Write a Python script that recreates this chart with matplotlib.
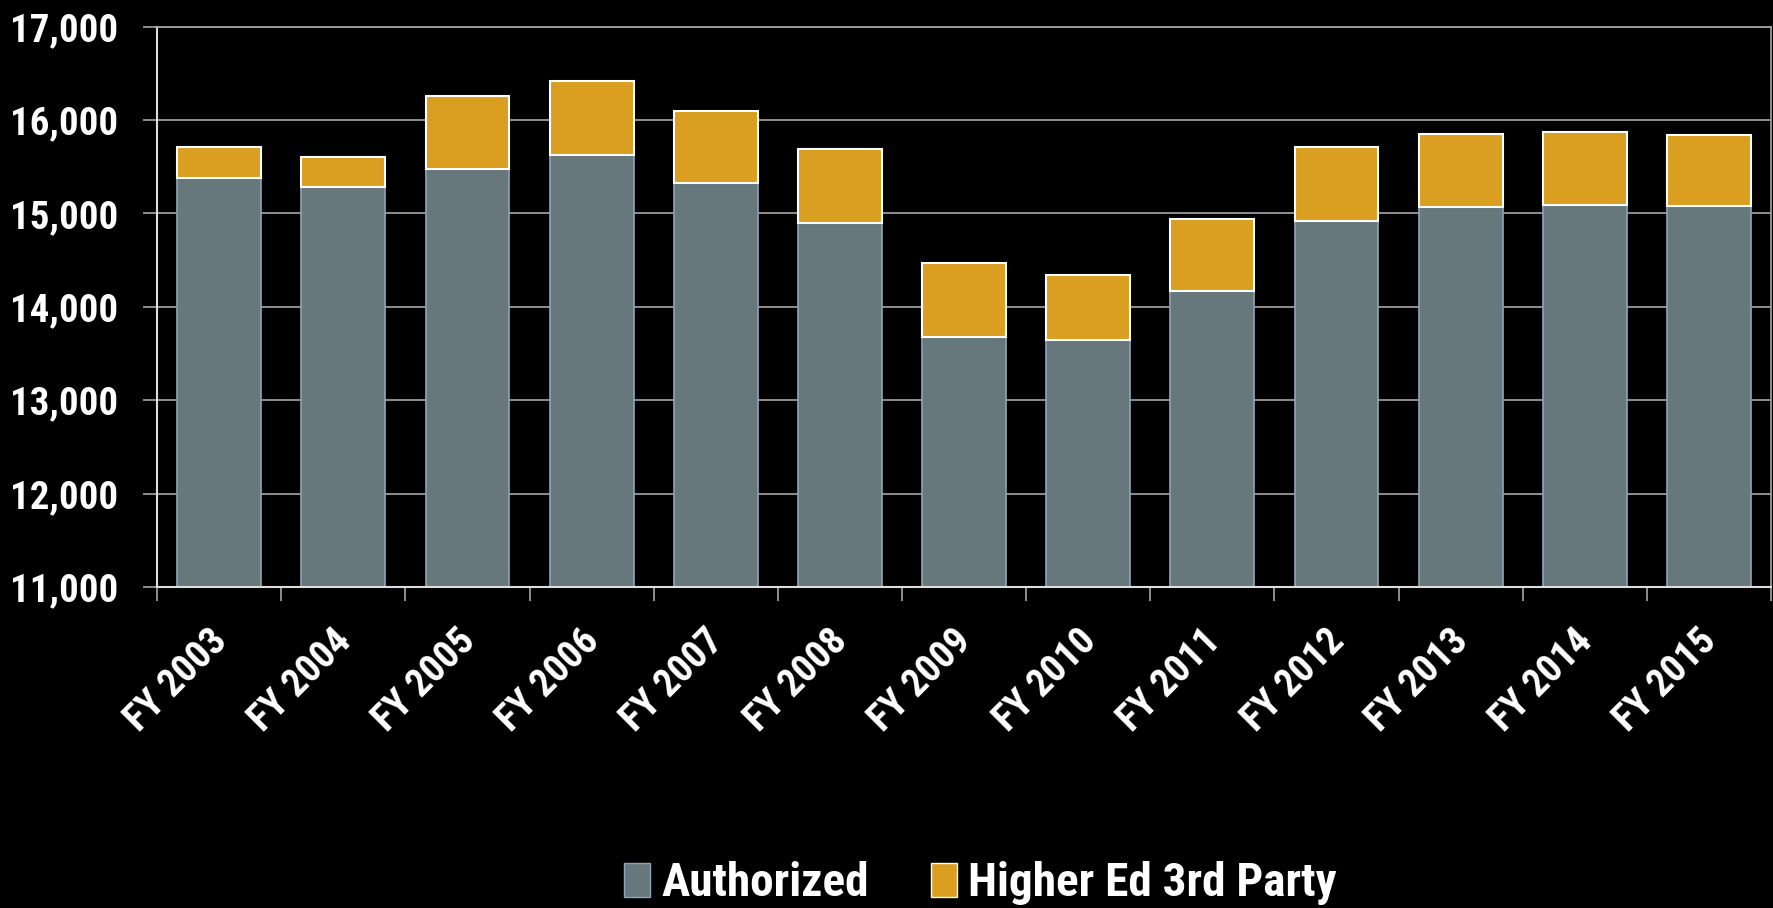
import matplotlib
matplotlib.use("Agg")
import matplotlib.pyplot as plt
import numpy as np
from matplotlib.patches import Patch
from matplotlib.ticker import FuncFormatter, FixedLocator
from matplotlib import font_manager as fm
from matplotlib.transforms import ScaledTranslation

fonts = fm.fontManager.ttflist
names = {f.name for f in fonts}
stretch = 'normal'
if 'Roboto Condensed' in names:
    fam = ['Roboto Condensed', 'DejaVu Sans']
elif 'Liberation Sans Narrow' in names:
    fam = ['Liberation Sans Narrow', 'DejaVu Sans']
elif any(f.name == 'DejaVu Sans' and 'ondensed' in f.fname for f in fonts):
    fam = ['DejaVu Sans']
    stretch = 'condensed'
else:
    fam = ['Roboto', 'DejaVu Sans']
narrow = fam[0] != 'Roboto'

plt.rcParams['font.family'] = fam
plt.rcParams['font.stretch'] = stretch
plt.rcParams['font.weight'] = 'bold'

categories = ["FY 2003", "FY 2004", "FY 2005", "FY 2006", "FY 2007", "FY 2008", "FY 2009",
              "FY 2010", "FY 2011", "FY 2012", "FY 2013", "FY 2014", "FY 2015"]
authorized = [15382, 15286, 15481, 15625, 15324, 14900, 13679, 13646, 14168, 14924, 15071, 15093, 15079]
totals = [15708, 15607, 16256, 16414, 16099, 15687, 14471, 14336, 14946, 15711, 15850, 15875, 15836]
higher_ed = [t - a for t, a in zip(totals, authorized)]
series_names = ["Authorized", "Higher Ed 3rd Party"]
yticks = [11000, 12000, 13000, 14000, 15000, 16000, 17000]

fig = plt.figure(figsize=(17.73, 9.08), dpi=100, facecolor='black')
ax = fig.add_axes([0.0886, 0.3535, 0.9103, 0.6171])
ax.set_facecolor('black')

x = np.arange(len(categories))
w = 0.676
grid_c = '#a6a6a6'
ax.set_axisbelow(True)
ax.yaxis.grid(True, color=grid_c, linewidth=1.2)
ax.bar(x, authorized, w, bottom=0, color='#66787c', edgecolor='#8fa4ba', linewidth=1.2, label=series_names[0])
ax.bar(x, higher_ed, w, bottom=authorized, color='#da9e20', edgecolor='white', linewidth=1.5, label=series_names[1])

ysize = 28 if narrow else 26
xsize = 28 if narrow else 26
lsize = 34 if narrow else 31

ax.set_ylim(yticks[0], yticks[-1])
ax.set_xlim(-0.5, len(categories) - 0.5)
ax.set_yticks(yticks)
ax.yaxis.set_major_formatter(FuncFormatter(lambda v, p: f"{int(v):,}"))
ax.tick_params(axis='y', colors=grid_c, length=10, width=1.2, labelcolor='white', labelsize=ysize, pad=18)

ax.set_xticks(x)
ax.set_xticklabels(categories, rotation=45, ha='right', rotation_mode='anchor', color='white', fontsize=xsize)
ax.tick_params(axis='x', which='major', length=0, pad=24)
offset = ScaledTranslation(-0.11, -0.02, fig.dpi_scale_trans)
for lbl in ax.get_xticklabels():
    lbl.set_transform(lbl.get_transform() + offset)
ax.xaxis.set_minor_locator(FixedLocator(np.arange(-0.5, len(categories), 1.0)))
ax.tick_params(axis='x', which='minor', length=10, width=1.2, colors=grid_c)

for s in ['left', 'bottom']:
    ax.spines[s].set_color('#dddddd')
    ax.spines[s].set_linewidth(1.5)
for s in ['top', 'right']:
    ax.spines[s].set_color(grid_c)
    ax.spines[s].set_linewidth(1.2)

handles = [Patch(facecolor='#66787c', edgecolor='#8fa4ba', label=series_names[0]),
           Patch(facecolor='#da9e20', edgecolor='white', label=series_names[1])]
leg = fig.legend(handles=handles, loc='center', bbox_to_anchor=(0.553, 0.027), ncol=2, frameon=False,
                 fontsize=lsize, handlelength=0.55, handleheight=0.75, handletextpad=0.25, columnspacing=1.3)
for t in leg.get_texts():
    t.set_color('white')

fig.savefig('out.png', dpi=100, facecolor='black')
